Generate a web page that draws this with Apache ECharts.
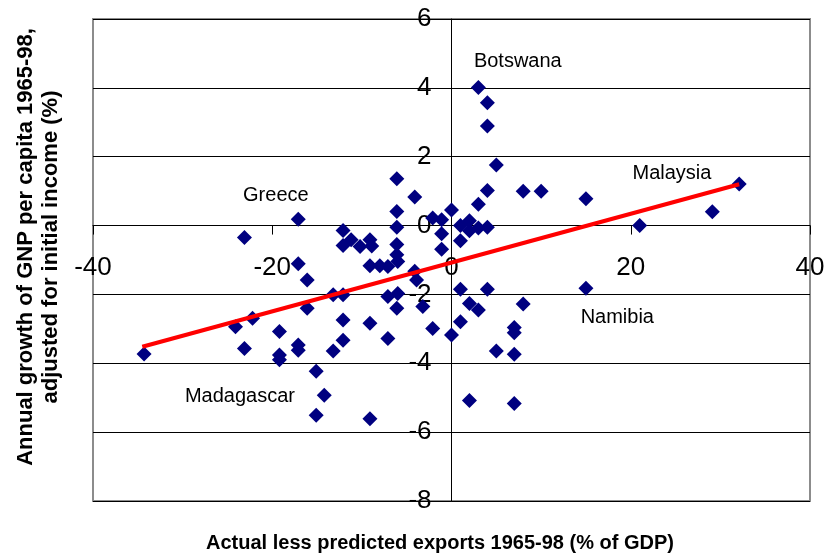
<!DOCTYPE html>
<html><head><meta charset="utf-8">
<script src="https://cdn.jsdelivr.net/npm/echarts@6/dist/echarts.min.js"></script>
<style>html,body{margin:0;padding:0;background:#fff}#c{width:828px;height:560px}</style>
</head><body><div id="c"></div>
<script>
// Actual less predicted exports 1965-98 (% of GDP)
const exportsGap = [
  -34.3, -23.1, -24.1, -22.2, -23.1,
  -17.1, -17.1, -16.1, -16.1, -19.2, -19.2, -19.2, -17.1, -17.1, -15.1, -14.2, -15.1,
  -13.2, -12.1, -12.1, -12.1, -13.2, -12.1, -12.1, -11.2, -10.2, -9.1, -8.9,
  -9.1, -8.0, -7.1, -9.1, -9.1, -7.1, -7.1,
  -6.1, -6.1, -6.1, -6.1, -6.1, -6.0, -6.0, -6.1,
  -4.1, -4.1, -3.9, -3.2, -2.1,
  -2.1, -1.1, -1.1, -1.1, 0.0, 0.0,
  1.0, 1.0, 2.0, 2.0, 3.0, 4.0, 3.0, 4.0, 5.0, 3.0, 4.0, 4.0,
  8.0, 10.0, 15.0, 21.0, 29.1, 32.1,
  1.0, 4.0, 2.0, 3.0, 8.0, 1.0, 7.0, 7.0, 5.0, 7.0, 2.0, 7.0, 15.0
];
// Annual growth of GNP per capita 1965-98, adjusted for initial income (%)
const growth = [
  -3.73, -0.35, -2.94, -2.69, -3.57,
  0.18, -1.11, -1.58, -2.40, -3.08, -3.76, -3.90, -3.47, -3.62, -4.23, -4.93, -5.51,
  -2.01, -2.01, -2.74, -3.33, -3.64, -0.14, -0.58, -0.41, -0.61, -0.41, -0.59,
  -1.17, -1.17, -1.19, -2.84, -5.61, -2.06, -3.28,
  1.36, 0.41, -0.05, -0.55, -0.85, -1.04, -1.97, -2.40,
  0.83, -1.33, -1.58, -2.35, -2.99,
  0.22, 0.17, -0.24, -0.69, 0.45, -3.18,
  0.00, -0.44, 0.14, -0.15, -0.07, -0.05, 0.62, 1.02, 1.76, 4.01, 3.57, 2.89,
  1.00, 1.00, 0.78, 0.00, 0.40, 1.21,
  -1.85, -1.85, -2.26, -2.45, -2.28, -2.79, -2.96, -3.11, -3.64, -3.74, -5.08, -5.17, -1.82
];
// Trend line end points
const trendX = [-34.5, 32.1];
const trendY = [-3.52, 1.20];
// Country annotations
const labelNames = ['Botswana', 'Greece', 'Malaysia', 'Namibia', 'Madagascar'];
const labelX = [7.4, -19.6, 24.6, 18.5, -23.6];
const labelY = [4.77, 0.86, 1.50, -2.66, -4.97];

const xTitle = 'Actual less predicted exports 1965-98 (% of GDP)';
const yTitle = 'Annual growth of GNP per capita 1965-98,\nadjusted for initial income (%)';

const FONT = 'Arial, "Liberation Sans", sans-serif';
const G = {left: 93, right: 18, top: 19, bottom: 59, w: 828, h: 560};
const gw = G.w - G.left - G.right, gh = G.h - G.top - G.bottom;
// shift the axes so they cross at the origin (labels move with them)
const xOff = -gh * (0 - (-8)) / (6 - (-8));
const yOff = -gw * (0 - (-40)) / (40 - (-40));

const chart = echarts.init(document.getElementById('c'), null, {renderer: 'canvas'});
chart.setOption({
  animation: false,
  backgroundColor: '#fff',
  grid: {left: G.left, right: G.right, top: G.top, bottom: G.bottom, show: true, borderColor: '#8c8c8c', borderWidth: 2, backgroundColor: 'transparent'},
  xAxis: {
    type: 'value', min: -40, max: 40, interval: 20, position: 'bottom', offset: xOff,
    axisLine: {show: true, onZero: false, lineStyle: {color: '#000', width: 1}},
    axisTick: {show: true, length: 9, lineStyle: {color: '#000', width: 1}},
    axisLabel: {fontSize: 26, color: '#000', fontFamily: FONT, margin: 29, showMinLabel: true, showMaxLabel: true},
    splitLine: {show: false}
  },
  yAxis: {
    type: 'value', min: -8, max: 6, interval: 2, position: 'left', offset: yOff,
    axisLine: {show: true, onZero: false, lineStyle: {color: '#000', width: 1}},
    axisTick: {show: true, length: 9, lineStyle: {color: '#000', width: 1}},
    axisLabel: {fontSize: 26, color: '#000', fontFamily: FONT, margin: 20},
    splitLine: {show: true, lineStyle: {color: '#000', width: 1}}
  },
  series: [
    {
      type: 'scatter', symbol: 'diamond', symbolSize: 15, z: 2,
      itemStyle: {color: '#000080', opacity: 1},
      data: exportsGap.map((x, i) => [x, growth[i]])
    },
    {
      type: 'line', symbol: 'none', z: 3,
      lineStyle: {color: '#ff0000', width: 4},
      data: trendX.map((x, i) => [x, trendY[i]])
    },
    {
      type: 'scatter', symbolSize: 0, z: 4, silent: true,
      itemStyle: {opacity: 1},
      label: {show: true, position: 'inside', formatter: p => p.name, color: '#000', fontSize: 20, fontFamily: FONT},
      data: labelNames.map((n, i) => ({name: n, value: [labelX[i], labelY[i]]}))
    }
  ],
  graphic: [
    {type: 'text', x: 440, y: 543, style: {text: xTitle, font: 'bold 20px ' + FONT, fill: '#000', textAlign: 'center', textVerticalAlign: 'middle'}},
    {type: 'text', x: 38, y: 247, rotation: Math.PI / 2, style: {text: yTitle, font: 'bold 22px ' + FONT, lineHeight: 25, fill: '#000', textAlign: 'center', textVerticalAlign: 'middle'}}
  ]
});
</script>
</body></html>
